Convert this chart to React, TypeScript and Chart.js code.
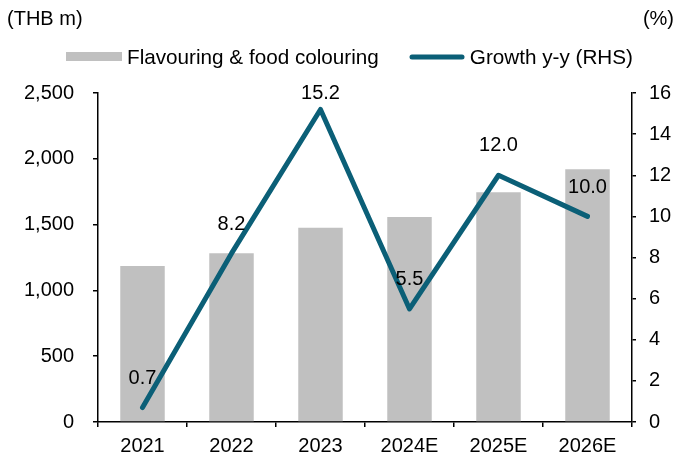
import React, { useEffect, useRef } from "react";
import { Chart, registerables } from "chart.js";

Chart.register(...registerables);

const categories = ["2021", "2022", "2023", "2024E", "2025E", "2026E"];
const revenue = [1185, 1282, 1477, 1558, 1745, 1920];
const growth = [0.7, 8.2, 15.2, 5.5, 12.0, 10.0];
const leftTicks = [0, 500, 1000, 1500, 2000, 2500];
const rightTicks = [0, 2, 4, 6, 8, 10, 12, 14, 16];

const BAR_COLOR = "#c0c0c0";
const LINE_COLOR = "#0b5f77";
const FONT = "'Liberation Sans', Arial, sans-serif";
const FS = 20;

const labelOffsets = [-29, -29, -16, -29, -30, -29];

const overlay = {
  id: "overlay",
  afterDatasetsDraw(chart: any) {
    const ctx = chart.ctx;
    const meta = chart.getDatasetMeta(1);
    ctx.save();
    ctx.fillStyle = "#000";
    ctx.font = `${FS}px ${FONT}`;
    ctx.textAlign = "center";
    ctx.textBaseline = "middle";
    meta.data.forEach((pt: any, i: number) => {
      ctx.fillText(growth[i].toFixed(1), pt.x, pt.y + labelOffsets[i]);
    });
    // axis unit titles
    ctx.textAlign = "left";
    ctx.fillText("(THB m)", 7, 19);
    ctx.textAlign = "right";
    ctx.fillText("(%)", 674, 19);
    // legend
    ctx.font = `20.7px ${FONT}`;
    ctx.fillStyle = BAR_COLOR;
    ctx.fillRect(66, 52, 56, 9);
    ctx.fillStyle = "#000";
    ctx.textAlign = "left";
    ctx.fillText("Flavouring & food colouring", 127, 58);
    ctx.strokeStyle = LINE_COLOR;
    ctx.lineWidth = 5;
    ctx.lineCap = "round";
    ctx.beginPath();
    ctx.moveTo(412, 57);
    ctx.lineTo(462, 57);
    ctx.stroke();
    ctx.textAlign = "right";
    ctx.fillText("Growth y-y (RHS)", 633, 58);
    ctx.restore();
  },
};

export default function App() {
  const ref = useRef<HTMLCanvasElement>(null);
  useEffect(() => {
    if (!ref.current) return;
    const chart = new Chart(ref.current, {
      type: "bar",
      data: {
        labels: categories,
        datasets: [
          {
            type: "bar",
            label: "Flavouring & food colouring",
            data: revenue,
            backgroundColor: BAR_COLOR,
            yAxisID: "y",
            categoryPercentage: 1,
            barPercentage: 0.5,
            order: 2,
          },
          {
            type: "line",
            label: "Growth y-y (RHS)",
            data: growth,
            borderColor: LINE_COLOR,
            backgroundColor: LINE_COLOR,
            borderWidth: 5,
            pointRadius: 0,
            tension: 0,
            borderCapStyle: "round",
            borderJoinStyle: "round",
            yAxisID: "y1",
            order: 1,
          } as any,
        ],
      },
      options: {
        animation: false,
        responsive: false,
        layout: { padding: { top: 93, left: 0, right: 0, bottom: 0 } },
        plugins: { legend: { display: false }, tooltip: { enabled: false } },
        scales: {
          x: {
            offset: true,
            grid: {
              offset: true,
              drawOnChartArea: false,
              drawTicks: true,
              tickLength: 5,
              color: "#000",
              lineWidth: 1.5,
            },
            border: { color: "#000", width: 1.5 },
            ticks: { color: "#000", font: { family: FONT, size: FS }, padding: 7 },
            afterFit(s: any) {
              s.height = 41;
            },
          },
          y: {
            position: "left",
            min: 0,
            max: 2500,
            afterBuildTicks(s: any) {
              s.ticks = leftTicks.map((v) => ({ value: v }));
            },
            grid: { drawOnChartArea: false, tickLength: 5, color: "#000", lineWidth: 1.5 },
            border: { color: "#000", width: 1.5 },
            ticks: {
              color: "#000",
              font: { family: FONT, size: FS },
              padding: 19,
              callback: (v: any) => Number(v).toLocaleString("en-US"),
            },
            afterFit(s: any) {
              s.width = 98;
            },
          },
          y1: {
            position: "right",
            min: 0,
            max: 16,
            afterBuildTicks(s: any) {
              s.ticks = rightTicks.map((v) => ({ value: v }));
            },
            grid: { drawOnChartArea: false, tickLength: 4, color: "#000", lineWidth: 1.5 },
            border: { color: "#000", width: 1.5 },
            ticks: { color: "#000", font: { family: FONT, size: FS }, padding: 13 },
            afterFit(s: any) {
              s.width = 49;
            },
          },
        },
      },
      plugins: [overlay],
    });
    return () => chart.destroy();
  }, []);
  return (
    <div style={{ position: "fixed", left: 0, top: 0, width: 681, height: 463, background: "#fff" }}>
      <canvas ref={ref} width={681} height={463} style={{ width: 681, height: 463 }} />
    </div>
  );
}
